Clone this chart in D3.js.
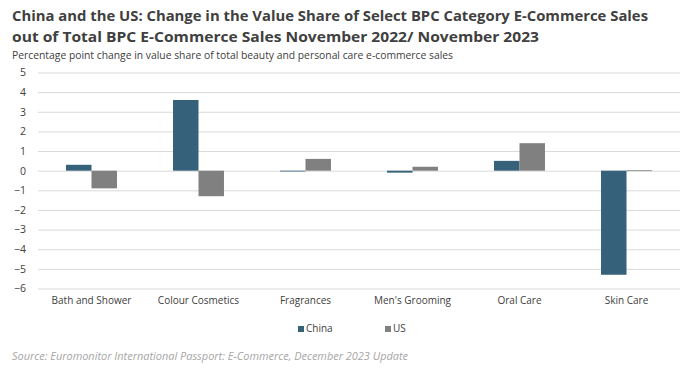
<!DOCTYPE html>
<html><head><meta charset="utf-8">
<script src="https://cdn.jsdelivr.net/npm/d3@7"></script>
<style>body{margin:0;background:#fff}svg{display:block}text{font-family:"Open Sans",sans-serif}</style>
</head><body>
<script>
const categories = ["Bath and Shower","Colour Cosmetics","Fragrances","Men's Grooming","Oral Care","Skin Care"];
const seriesNames = ["China","US"];
const china = [0.3, 3.6, -0.03, -0.1, 0.5, -5.3];
const us = [-0.9, -1.3, 0.6, 0.2, 1.4, 0.02];
const yTicks = [5,4,3,2,1,0,-1,-2,-3,-4,-5,-6];
const colors = ["#35627a","#808080"];

(function(){
const W=688,H=379;
const svg=d3.select("body").append("svg").attr("width",W).attr("height",H);
const pL=38,pR=680,pT=72.5,pB=288.5;
const y=d3.scaleLinear().domain([-6,5]).range([pB,pT]);
const x=d3.scaleBand().domain(categories).range([pL,pR]).paddingInner(0).paddingOuter(0);
const x1=d3.scaleBand().domain(seriesNames).range([0,x.bandwidth()]).paddingInner(0).paddingOuter(1.1);

svg.append("text").attr("x",12).attr("y",21).attr("font-size",14.5).attr("font-weight",700).attr("fill","#404040")
  .attr("textLength",636).attr("lengthAdjust","spacingAndGlyphs")
  .text("China and the US: Change in the Value Share of Select BPC Category E-Commerce Sales");
svg.append("text").attr("x",12).attr("y",42).attr("font-size",14.5).attr("font-weight",700).attr("fill","#404040")
  .attr("textLength",527).attr("lengthAdjust","spacingAndGlyphs")
  .text("out of Total BPC  E-Commerce Sales November 2022/ November 2023");
svg.append("text").attr("x",12).attr("y",59).attr("font-size",10.5).attr("fill","#404040")
  .attr("textLength",441).attr("lengthAdjust","spacingAndGlyphs")
  .text("Percentage point change in value  share of total beauty and personal care e-commerce sales");

const yAxis=d3.axisLeft(y).tickValues(yTicks).tickSize(-(pR-pL)).tickPadding(12).tickFormat(d3.format("d"));
const ga=svg.append("g").attr("transform",`translate(${pL},0)`).call(yAxis);
ga.select(".domain").remove();
ga.selectAll(".tick line").attr("stroke","#d9d9d9").attr("stroke-width",1);
ga.selectAll(".tick text").attr("font-size",10.5).attr("fill","#404040").attr("font-family","Open Sans, sans-serif");

const data=categories.map((c,i)=>({c,vals:[china[i],us[i]]}));
const g=svg.append("g");
data.forEach(d=>{
  d.vals.forEach((v,j)=>{
    g.append("rect")
      .attr("x",x(d.c)+x1(seriesNames[j]))
      .attr("width",x1.bandwidth())
      .attr("y",y(Math.max(0,v)))
      .attr("height",Math.max(0.8,Math.abs(y(v)-y(0))))
      .attr("fill",colors[j]);
  });
});

const xAxis=d3.axisBottom(x).tickSize(0).tickPadding(0);
const gx=svg.append("g").attr("transform",`translate(0,297)`).call(xAxis);
gx.select(".domain").remove();
gx.selectAll(".tick text").attr("font-size",10).attr("fill","#404040").attr("font-family","Open Sans, sans-serif");

const leg=svg.append("g");
const legX=[298,385];
seriesNames.forEach((s,i)=>{
  leg.append("rect").attr("x",legX[i]).attr("y",326).attr("width",6).attr("height",6).attr("fill",colors[i]);
  leg.append("text").attr("x",legX[i]+8).attr("y",332).attr("font-size",10).attr("fill","#404040").text(s);
});

svg.append("text").attr("x",12).attr("y",360).attr("font-size",10.5).attr("font-style","italic").attr("fill","#a6a6a6")
  .attr("textLength",396).attr("lengthAdjust","spacingAndGlyphs")
  .text("Source: Euromonitor International Passport: E-Commerce, December 2023 Update");
})();
</script>
</body></html>
